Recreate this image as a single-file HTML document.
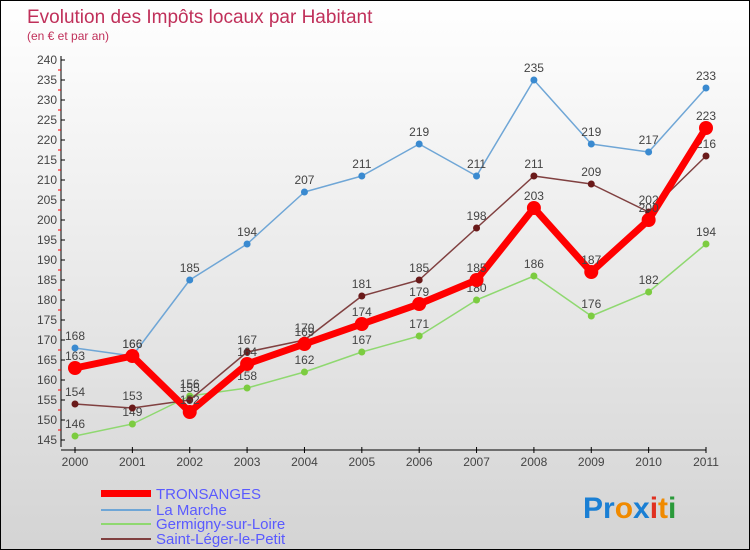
<!DOCTYPE html>
<html><head><meta charset="utf-8"><style>
body{margin:0;}
#c{width:748px;height:548px;border:1px solid #000;background:linear-gradient(#fff,#d4d4d4);position:relative;font-family:"Liberation Sans",sans-serif;overflow:hidden}
svg text{font-family:"Liberation Sans",sans-serif}
</style></head><body>
<div id="c">
<svg id="s" width="748" height="548">
<text x="26" y="22" font-size="19" fill="#c0305a">Evolution des Impôts locaux par Habitant</text>
<text x="26" y="39" font-size="12" fill="#c0305a">(en € et par an)</text>
<g id="axes"></g><g id="series"></g>
<g>
<rect x="100" y="489" width="50" height="7" fill="#f00"/>
<text x="155" y="498" font-size="15" fill="#5a5aff">TRONSANGES</text>
<rect x="100" y="508" width="50" height="2" fill="#6fa6d6"/>
<text x="155" y="514" font-size="15" fill="#5a5aff">La Marche</text>
<rect x="100" y="522" width="50" height="2" fill="#8fd870"/>
<text x="155" y="528" font-size="15" fill="#5a5aff">Germigny-sur-Loire</text>
<rect x="100" y="537" width="50" height="2" fill="#804040"/>
<text x="155" y="543" font-size="15" fill="#5a5aff">Saint-Léger-le-Petit</text>
</g>
<g font-size="30" font-weight="bold">
<text x="582" y="517"><tspan fill="#1a7fd4">Pr</tspan><tspan fill="#f08a00">o</tspan><tspan fill="#1a7fd4">x</tspan><tspan fill="#e03020">i</tspan><tspan fill="#f08a00">t</tspan><tspan fill="#2a9a3a">i</tspan></text>
</g>
</svg>
</div>
<script>
const years=["2000","2001","2002","2003","2004","2005","2006","2007","2008","2009","2010","2011"];
const yTicks=[145,150,155,160,165,170,175,180,185,190,195,200,205,210,215,220,225,230,235,240];
const tronsanges=[163,166,152,164,169,174,179,185,203,187,200,223];
const laMarche=[168,166,185,194,207,211,219,211,235,219,217,233];
const germigny=[146,149,156,158,162,167,171,180,186,176,182,194];
const saintLeger=[154,153,155,167,170,181,185,198,211,209,202,216];
const NS="http://www.w3.org/2000/svg";
function X(i){return 74+i*(631/11);}
function Y(v){return 59+(240-v)*4;}
function mk(t,a,p){const e=document.createElementNS(NS,t);for(const k in a)e.setAttribute(k,a[k]);p.appendChild(e);return e;}
const ax=document.getElementById('axes');
const yl=mk('line',{x1:60,y1:55,x2:60,y2:446,stroke:'#000'},ax);


yTicks.forEach(v=>{
 mk('line',{x1:60,x2:64,y1:Y(v),y2:Y(v),stroke:'#000'},ax);
 if(v<240) mk('line',{x1:57,x2:60,y1:Y(v+2.5),y2:Y(v+2.5),stroke:'#f00'},ax);
 const t=mk('text',{x:56,y:Y(v)+4,'font-size':12,fill:'#444','text-anchor':'end'},ax);t.textContent=v;
 
 
});
const xl=mk('line',{x1:60,y1:449,x2:X(11),y2:449,stroke:'#000'},ax);


years.forEach((y,i)=>{
 mk('line',{x1:X(i),x2:X(i),y1:446,y2:452,stroke:'#000'},ax);
 const t=mk('text',{x:X(i),y:465,'font-size':12,fill:'#444','text-anchor':'middle'},ax);t.textContent=y;
 
 
});
const sg=document.getElementById('series');
function draw(d,color,w,r,dot,name){
 const g=mk('g',{},sg);
 
 
 mk('polyline',{points:d.map((v,i)=>X(i)+','+Y(v)).join(' '),fill:'none',stroke:color,'stroke-width':w,'stroke-linejoin':'round'},g);
 d.forEach((v,i)=>{
  const c=mk('circle',{cx:X(i),cy:Y(v),r:r,fill:dot},g);
  
  
  const t=mk('text',{x:X(i),y:Y(v)-8,'font-size':12,fill:'#444','text-anchor':'middle'},g);t.textContent=v;
  
  
 });
}
draw(germigny,'#8fd870',1.5,3.5,'#7ccc40','germigny');
draw(saintLeger,'#804040',1.5,3.5,'#6a1a1a','saint-leger');
draw(laMarche,'#6fa6d6',1.5,3.5,'#3a8ad0','la-marche');
draw(tronsanges,'#f00',7,7,'#f00','tronsanges');
</script>
</body></html>
